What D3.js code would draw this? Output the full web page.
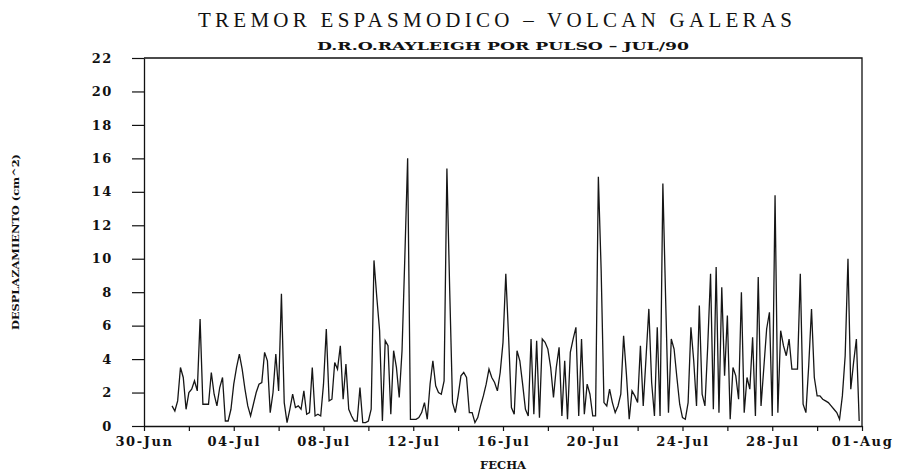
<!DOCTYPE html>
<html>
<head>
<meta charset="utf-8">
<script src="https://cdn.jsdelivr.net/npm/d3@7/dist/d3.min.js"></script>
<style>
  html, body { margin: 0; padding: 0; background: #fff; }
  svg { display: block; }
  .tick text { font-family: "DejaVu Serif", serif; font-weight: bold; font-size: 13px; fill: #111; letter-spacing: 1.6px; }
</style>
</head>
<body>
<svg id="chart" width="902" height="475"></svg>
<script>
// Tremor espasmódico, Volcán Galeras — D.R.O. Rayleigh por pulso, julio 1990.
// Muestras cada 3 horas desde el 01-Jul 06:00.
const firstSample = new Date(1990, 6, 1, 6);
const stepHours = 3;

const desplazamiento = [
  1.2, 0.9, 1.5, 3.5, 2.9, 1.0, 2.0, 2.2, 2.7, 2.1,
  6.4, 1.3, 1.3, 1.3, 3.2, 1.9, 1.2, 2.3, 2.9, 0.3,
  0.3, 1.0, 2.5, 3.5, 4.3, 3.4, 2.2, 1.2, 0.6, 1.3,
  2.0, 2.5, 2.6, 4.4, 3.9, 0.8, 2.0, 4.3, 2.1, 7.9,
  1.4, 0.2, 1.0, 1.9, 1.1, 1.2, 1.0, 2.1, 0.7, 0.8,
  3.5, 0.6, 0.7, 0.6, 2.5, 5.8, 1.5, 1.6, 3.8, 3.4,
  4.8, 1.6, 3.7, 1.0, 0.6, 0.3, 0.3, 2.3, 0.2, 0.2,
  0.3, 1.0, 9.9, 7.7, 5.7, 0.3, 5.1, 4.8, 0.7, 4.5,
  3.5, 1.7, 4.5, 10.1, 16.0, 0.4, 0.4, 0.4, 0.5, 0.8,
  1.4, 0.4, 2.5, 3.9, 2.4, 2.0, 1.9, 2.7, 15.4, 8.1,
  1.4, 0.8, 1.8, 3.0, 3.2, 2.9, 0.8, 0.8, 0.2, 0.5,
  1.2, 1.8, 2.5, 3.4, 2.9, 2.6, 2.1, 3.2, 5.0, 9.1,
  5.3, 1.1, 0.7, 4.5, 3.9, 2.5, 1.0, 0.6, 5.2, 0.7,
  5.1, 0.5, 5.2, 5.0, 4.6, 3.5, 1.7, 3.5, 4.7, 0.6,
  3.9, 0.4, 4.4, 5.2, 5.9, 0.6, 5.2, 0.7, 2.5, 1.9,
  0.6, 0.6, 14.9, 9.3, 1.4, 1.2, 2.2, 1.4, 0.8, 1.2,
  1.9, 5.4, 3.1, 0.4, 2.1, 1.8, 1.4, 4.8, 1.2, 4.1,
  7.0, 2.6, 0.6, 5.9, 0.6, 14.5, 7.5, 0.8, 5.2, 4.6,
  2.9, 1.3, 0.5, 0.4, 1.4, 5.9, 3.9, 1.2, 7.2, 1.9,
  1.2, 4.8, 9.1, 1.0, 9.5, 0.8, 8.3, 3.0, 6.6, 0.4,
  3.5, 3.0, 1.6, 8.0, 0.8, 2.9, 2.2, 5.3, 0.6, 8.9,
  1.2, 3.5, 5.8, 6.8, 0.6, 13.8, 0.8, 5.7, 4.8, 4.2,
  5.2, 3.4, 3.4, 3.4, 9.1, 1.3, 0.8, 3.6, 7.0, 2.9,
  1.8, 1.8, 1.6, 1.5, 1.4, 1.2, 1.0, 0.8, 0.4, 1.8,
  4.2, 10.0, 2.2, 3.8, 5.2, 0.3
];

const yTicks = [0, 2, 4, 6, 8, 10, 12, 14, 16, 18, 20, 22];
const dateLabels = ["30-Jun", "04-Jul", "08-Jul", "12-Jul", "16-Jul", "20-Jul", "24-Jul", "28-Jul", "01-Aug"];
const xDomain = [new Date(1990, 5, 30), new Date(1990, 7, 1)];

const title = "TREMOR ESPASMODICO \u2013 VOLCAN GALERAS";
const subtitle = "D.R.O.RAYLEIGH POR PULSO \u2013 JUL/90";
const xTitle = "FECHA";
const yTitle = "DESPLAZAMIENTO (cm^2)";

const series = desplazamiento.map((v, i) => ({
  t: d3.timeHour.offset(firstSample, i * stepHours),
  v
}));

const svg = d3.select("#chart");
const m = { left: 144, right: 40, top: 58, bottom: 49 };
const W = 902, H = 475;
const x = d3.scaleTime().domain(xDomain).range([m.left, W - m.right]);
const y = d3.scaleLinear().domain([0, 22]).range([H - m.bottom, m.top]);

const ink = "#111";

// frame (top and right edges)
svg.append("path")
  .attr("d", `M${x.range()[0]},${y(22)}H${x.range()[1]}V${y(0)}`)
  .attr("fill", "none").attr("stroke", ink).attr("stroke-width", 1.3);

// y axis
const yAxis = svg.append("g")
  .attr("transform", `translate(${m.left},0)`)
  .call(d3.axisLeft(y).tickValues(yTicks).tickSize(12).tickPadding(19).tickSizeOuter(0));
yAxis.select(".domain").attr("stroke", ink).attr("stroke-width", 1.3);
yAxis.selectAll(".tick line").attr("stroke", ink).attr("stroke-width", 1.2);

// x axis: ticks every 2 days, labels every 4 days
const labelByTime = new Map(dateLabels.map((s, k) => [+d3.timeDay.offset(xDomain[0], 4 * k), s]));
const xAxis = svg.append("g")
  .attr("transform", `translate(0,${y(0)})`)
  .call(d3.axisBottom(x)
    .tickValues(d3.range(0, 33, 2).map(k => d3.timeDay.offset(xDomain[0], k)))
    .tickSize(5).tickPadding(6).tickSizeOuter(0)
    .tickFormat(d => labelByTime.get(+d) || ""));
xAxis.select(".domain").attr("stroke", ink).attr("stroke-width", 1.3);
xAxis.selectAll(".tick line").attr("stroke", ink).attr("stroke-width", 1.2);

// series
svg.append("path")
  .datum(series)
  .attr("fill", "none")
  .attr("stroke", "#161616")
  .attr("stroke-width", 1.3)
  .attr("stroke-linejoin", "miter")
  .attr("d", d3.line().x(d => x(d.t)).y(d => y(d.v)));

// titles
svg.append("text")
  .attr("x", 495).attr("y", 27)
  .attr("text-anchor", "middle")
  .attr("font-family", "Liberation Serif, serif")
  .attr("font-size", 21)
  .attr("fill", ink)
  .attr("textLength", 594).attr("lengthAdjust", "spacing")
  .text(title);

svg.append("text")
  .attr("x", 503).attr("y", 50)
  .attr("text-anchor", "middle")
  .attr("font-family", "DejaVu Serif, serif")
  .attr("font-weight", "bold")
  .attr("font-size", 11)
  .attr("fill", ink)
  .attr("textLength", 372).attr("lengthAdjust", "spacingAndGlyphs")
  .text(subtitle);

svg.append("text")
  .attr("x", 503).attr("y", 469)
  .attr("text-anchor", "middle")
  .attr("font-family", "DejaVu Serif, serif")
  .attr("font-weight", "bold")
  .attr("font-size", 11)
  .attr("fill", ink)
  .attr("textLength", 46).attr("lengthAdjust", "spacingAndGlyphs")
  .text(xTitle);

svg.append("text")
  .attr("transform", `translate(19,${(y(0) + y(22)) / 2}) rotate(-90)`)
  .attr("text-anchor", "middle")
  .attr("font-family", "DejaVu Serif, serif")
  .attr("font-weight", "bold")
  .attr("font-size", 9)
  .attr("fill", ink)
  .attr("textLength", 176).attr("lengthAdjust", "spacingAndGlyphs")
  .text(yTitle);
</script>
</body>
</html>
